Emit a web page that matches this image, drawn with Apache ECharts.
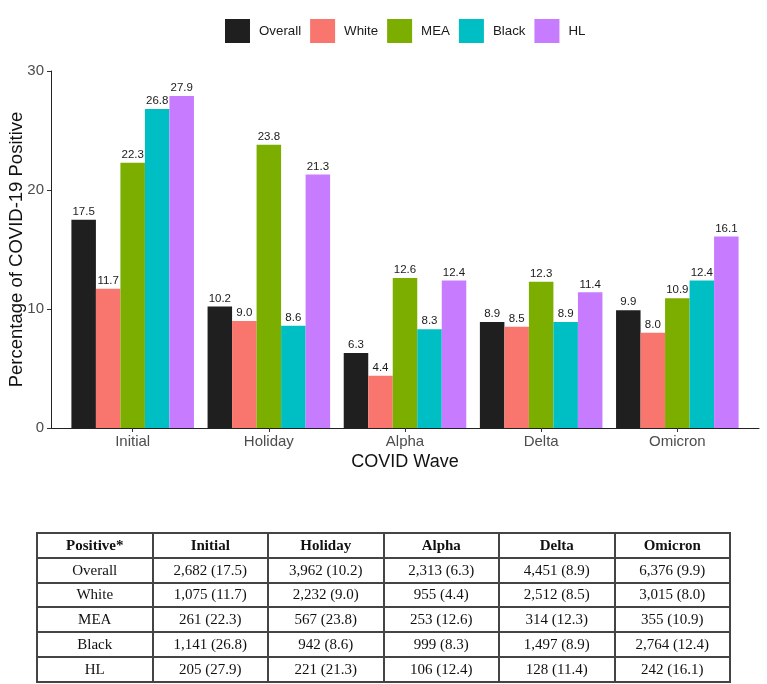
<!DOCTYPE html>
<html>
<head>
<meta charset="utf-8">
<script src="https://cdn.jsdelivr.net/npm/echarts@6/dist/echarts.min.js"></script>
<style>
  html, body { margin: 0; padding: 0; background: #fff; }
  #wrap { position: relative; width: 767px; height: 684px; }
  #chart { position: absolute; left: 0; top: 0; width: 767px; height: 684px; }
  #tbl {
    position: absolute; left: 36px; top: 532px; width: 695px;
    border-collapse: collapse; table-layout: fixed;
    font-family: "Liberation Serif", "Times New Roman", serif; font-size: 15px; color: #111;
  }
  #tbl td, #tbl th {
    border: 2px solid #444; height: 22.8px; padding: 0; text-align: center;
  }
  #tbl th { font-weight: bold; }
</style>
</head>
<body>
<div id="wrap">
  <div id="chart"></div>
  <table id="tbl"></table>
</div>
<script>
// waves on the x axis
var waves = ['Initial', 'Holiday', 'Alpha', 'Delta', 'Omicron'];
var groups = ['Overall', 'White', 'MEA', 'Black', 'HL'];
var groupColors = ['#1f1f1f', '#F8766D', '#7CAE00', '#00BFC4', '#C77CFF'];

// percentage positive, per group, per wave
var pctOverall = [17.5, 10.2, 6.3, 8.9, 9.9];
var pctWhite   = [11.7, 9.0, 4.4, 8.5, 8.0];
var pctMEA     = [22.3, 23.8, 12.6, 12.3, 10.9];
var pctBlack   = [26.8, 8.6, 8.3, 8.9, 12.4];
var pctHL      = [27.9, 21.3, 12.4, 11.4, 16.1];

// counts of positives (table)
var nOverall = [2682, 3962, 2313, 4451, 6376];
var nWhite   = [1075, 2232, 955, 2512, 3015];
var nMEA     = [261, 567, 253, 314, 355];
var nBlack   = [1141, 942, 999, 1497, 2764];
var nHL      = [205, 221, 106, 128, 242];

var yTicks = [0, 10, 20, 30];

var pctAll = [pctOverall, pctWhite, pctMEA, pctBlack, pctHL];
var nAll = [nOverall, nWhite, nMEA, nBlack, nHL];

var FONT = '"Liberation Sans", Arial, sans-serif';

var seriesList = groups.map(function (g, i) {
  return {
    name: g,
    type: 'bar',
    xAxisIndex: 0,
    yAxisIndex: 0,
    barGap: '0%',
    barCategoryGap: '10%',
    itemStyle: { color: groupColors[i] },
    label: {
      show: true,
      position: 'top',
      distance: 2,
      fontFamily: FONT,
      fontSize: 11.5,
      color: '#1a1a1a',
      formatter: function (p) { return p.value.toFixed(1); }
    },
    data: pctAll[i]
  };
});

var chart = echarts.init(document.getElementById('chart'));
chart.setOption({
  animation: false,
  textStyle: { fontFamily: FONT },
  legend: {
    data: groups,
    left: 225,
    top: 19,
    padding: 0,
    icon: 'rect',
    itemWidth: 25,
    itemHeight: 24,
    itemGap: 9,
    textStyle: { fontFamily: FONT, fontSize: 13.3, color: '#1a1a1a', padding: [0, 0, 0, 4] }
  },
  grid: [
    { left: 64.6, right: 21.6, top: 71, bottom: 256, outerBoundsMode: 'none', containLabel: false },   // bars
    { left: 51, right: 8, top: 71, bottom: 256, outerBoundsMode: 'none', containLabel: false }          // axis frame
  ],
  xAxis: [
    {
      type: 'category', gridIndex: 0, data: waves,
      axisLine: { show: false },
      axisTick: { show: true, alignWithLabel: true, length: 4, lineStyle: { color: '#333' } },
      axisLabel: { color: '#4d4d4d', fontSize: 15, margin: 6, fontFamily: FONT }
    },
    {
      type: 'value', gridIndex: 1, min: 0, max: 1,
      axisLine: { show: true, lineStyle: { color: '#222', width: 1 } },
      axisTick: { show: false }, axisLabel: { show: false }, splitLine: { show: false },
      name: 'COVID Wave', nameLocation: 'middle', nameGap: 25, nameMoveOverlap: false,
      nameTextStyle: { fontSize: 18, color: '#111', fontFamily: FONT }
    }
  ],
  yAxis: [
    { type: 'value', gridIndex: 0, min: 0, max: 30, show: false },
    {
      type: 'value', gridIndex: 1, min: yTicks[0], max: yTicks[yTicks.length - 1], interval: 10,
      axisLine: { show: true, lineStyle: { color: '#222', width: 1 } },
      axisTick: { show: true, length: 4, lineStyle: { color: '#333' } },
      axisLabel: { color: '#4d4d4d', fontSize: 15, margin: 7, fontFamily: FONT },
      splitLine: { show: false },
      name: 'Percentage of COVID-19 Positive', nameLocation: 'middle', nameRotate: 90,
      nameGap: 25, nameMoveOverlap: false,
      nameTextStyle: { fontSize: 18.5, color: '#111', fontFamily: FONT }
    }
  ],
  series: seriesList
});

// summary table below the chart
function fmtCell(n, p) {
  return n.toLocaleString('en-US') + ' (' + p.toFixed(1) + ')';
}
var html = '<tr><th>Positive*</th>' + waves.map(function (w) { return '<th>' + w + '</th>'; }).join('') + '</tr>';
groups.forEach(function (g, i) {
  html += '<tr><td>' + g + '</td>';
  for (var j = 0; j < waves.length; j++) {
    html += '<td>' + fmtCell(nAll[i][j], pctAll[i][j]) + '</td>';
  }
  html += '</tr>';
});
document.getElementById('tbl').innerHTML = html;
</script>
</body>
</html>
